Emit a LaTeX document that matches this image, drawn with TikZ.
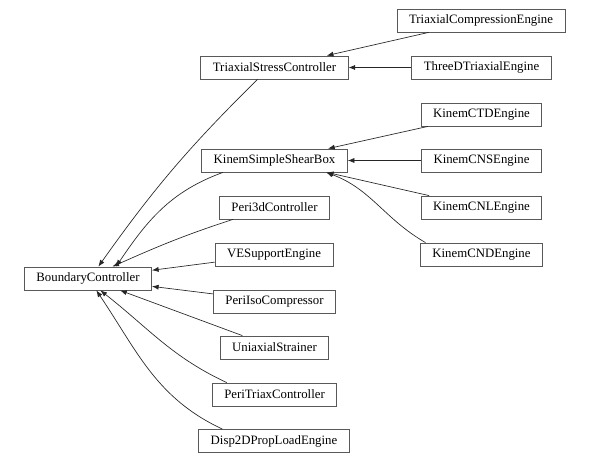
\documentclass[tikz,border=0pt]{standalone}
\usepackage{fontspec}
\setmainfont{Liberation Serif}
\usepackage{tikz}
\usetikzlibrary{shapes,arrows.meta}

\begin{document}
\begin{tikzpicture}[x=0.75pt,y=0.75pt,
  cls/.style={draw=black!65, line width=0.6pt, rectangle, minimum height=17.25pt,
    inner xsep=9pt, inner ysep=0pt, font=\fontsize{9.6}{11}\selectfont},
  inh/.style={draw=black!85, line width=0.5pt, -{Latex[length=5pt,width=3.8pt]}}]
\useasboundingbox (0,0) rectangle (589,-463);
%
\node[cls] (tce) at (481,-20.5) {TriaxialCompressionEngine};
\node[cls] (tsc) at (274.5,-67.5) {TriaxialStressController};
\node[cls] (tdte) at (481.5,-67.5) {ThreeDTriaxialEngine};
\node[cls] (ctd) at (481.5,-114.5) {KinemCTDEngine};
\node[cls] (ksb) at (274.5,-160.5) {KinemSimpleShearBox};
\node[cls] (cns) at (481.5,-160.5) {KinemCNSEngine};
\node[cls] (p3d) at (274.5,-207.5) {Peri3dController};
\node[cls] (cnl) at (481.5,-207.5) {KinemCNLEngine};
\node[cls] (ves) at (274,-254.5) {VESupportEngine};
\node[cls] (cnd) at (481.5,-254.5) {KinemCNDEngine};
\node[cls] (bc) at (88,-278.5) {BoundaryController};
\node[cls] (pic) at (274.5,-301.5) {PeriIsoCompressor};
\node[cls] (uni) at (274.5,-347.5) {UniaxialStrainer};
\node[cls] (ptc) at (274.5,-394.5) {PeriTriaxController};
\node[cls] (d2d) at (274,-441) {Disp2DPropLoadEngine};
%
\draw[inh] (tce) -- (tsc);
\draw[inh] (tdte) -- (tsc);
\draw[inh] (ctd) -- (ksb);
\draw[inh] (cns) -- (ksb);
\draw[inh] (cnl) -- (ksb);
\draw[inh] (cnd.168) to[out=150,in=-20] (ksb.-13);
%
\draw[inh] (tsc.-145) to[bend right=5] (bc.49);
\draw[inh] (ksb.-167) to[out=-160,in=56] (bc.23);
\draw[inh] (p3d.-164) to[out=-162,in=24] (bc.26);
\draw[inh] (ves) -- (bc);
\draw[inh] (pic) -- (bc);
\draw[inh] (uni) -- (bc);
\draw[inh] (ptc.166) to[out=155,in=-38] (bc.-44);
\draw[inh] (d2d.167) to[out=155,in=-56] (bc.-55);
\end{tikzpicture}
\end{document}
